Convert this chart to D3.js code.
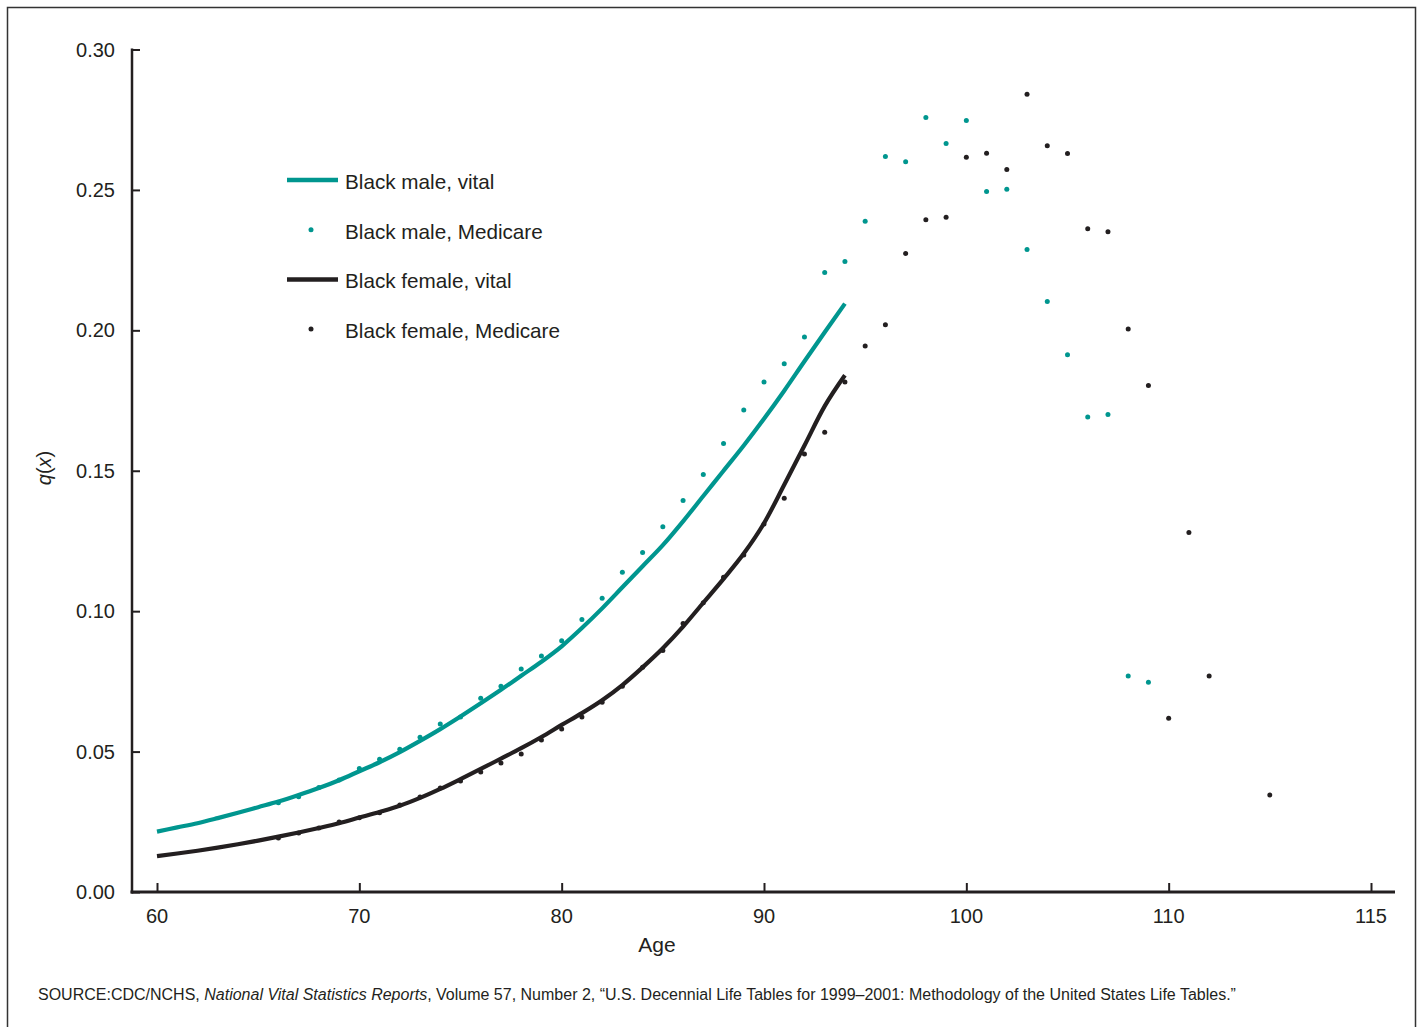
<!DOCTYPE html>
<html>
<head>
<meta charset="utf-8">
<script src="https://cdn.jsdelivr.net/npm/d3@7"></script>
<style>
  html, body { margin: 0; padding: 0; background: #fff; }
  svg { display: block; font-family: "Liberation Sans", Arial, Helvetica, sans-serif; }
</style>
</head>
<body>
<svg id="chart" width="1423" height="1027"></svg>
<script>
// ---- Data ----
const vitalAges = d3.range(60, 95);
const maleVital = [0.0215,0.0230,0.0245,0.0263,0.0282,0.0302,0.0322,0.0345,0.0370,0.0398,
  0.0430,0.0462,0.0498,0.0538,0.0580,0.0625,0.0672,0.0720,0.0770,0.0820,
  0.0875,0.0940,0.1010,0.1085,0.1160,0.1235,0.1320,0.1410,0.1500,0.1590,
  0.1685,0.1785,0.1890,0.1993,0.2095];
const femaleVital = [0.0128,0.0137,0.0147,0.0158,0.0170,0.0183,0.0197,0.0212,0.0228,0.0245,
  0.0265,0.0285,0.0307,0.0335,0.0367,0.0402,0.0438,0.0475,0.0512,0.0552,
  0.0595,0.0637,0.0683,0.0737,0.0800,0.0868,0.0945,0.1030,0.1115,0.1205,
  0.1313,0.1450,0.1590,0.1730,0.1840];

const maleMedicareAges = d3.range(66, 110);
const maleMedicare = [0.0318,0.0339,0.0372,0.0399,0.0440,0.0473,0.0508,0.0551,0.0598,0.0623,
  0.0690,0.0733,0.0794,0.0840,0.0895,0.0970,0.1046,0.1139,0.1209,0.1301,
  0.1394,0.1487,0.1597,0.1716,0.1816,0.1881,0.1976,0.2206,0.2245,0.2388,
  0.2619,0.2600,0.2758,0.2665,0.2747,0.2494,0.2502,0.2288,0.2103,0.1913,
  0.1691,0.1700,0.0769,0.0747];

const femaleMedicareAges = d3.range(66, 113).concat([115]);
const femaleMedicare = [0.0192,0.0210,0.0228,0.0249,0.0264,0.0282,0.0310,0.0338,0.0370,0.0395,
  0.0427,0.0459,0.0491,0.0541,0.0580,0.0623,0.0676,0.0733,0.0800,0.0860,
  0.0956,0.1030,0.1121,0.1200,0.1310,0.1402,0.1560,0.1637,0.1816,0.1944,
  0.2020,0.2274,0.2394,0.2403,0.2616,0.2631,0.2573,0.2841,0.2657,0.2630,
  0.2362,0.2351,0.2005,0.1804,0.0619,0.1280,0.0769,
  0.0345];

// Axis ticks (the last tick is labelled "115" in the source although it sits where 120 would be)
const xTickValues = [60, 70, 80, 90, 100, 110, 120];
const xTickLabels = ["60", "70", "80", "90", "100", "110", "115"];
const yTickValues = [0, 0.05, 0.10, 0.15, 0.20, 0.25, 0.30];

const legendItems = [
  { label: "Black male, vital", type: "line", color: "#00968f" },
  { label: "Black male, Medicare", type: "dot", color: "#00968f" },
  { label: "Black female, vital", type: "line", color: "#231f20" },
  { label: "Black female, Medicare", type: "dot", color: "#231f20" }
];

const TEAL = "#00968f", DARK = "#231f20";

// ---- Scales ----
const svg = d3.select("#chart");
const x = d3.scaleLinear().domain([60, 120]).range([157, 1371]);
const y = d3.scaleLinear().domain([0, 0.30]).range([892, 49.5]);

// frame
svg.append("path")
  .attr("d", "M7.5,1040 L7.5,7.5 L1415.5,7.5 L1415.5,1040")
  .attr("fill", "none").attr("stroke", "#333").attr("stroke-width", 1.5);

// ---- Axes ----
const axisColor = DARK;
const gx = svg.append("g").attr("transform", `translate(0,${y(0)})`)
  .call(d3.axisTop(x).tickValues(xTickValues).tickSize(9).tickFormat(""));
gx.select(".domain").remove();
gx.selectAll(".tick line").attr("stroke", axisColor).attr("stroke-width", 2);
svg.append("line").attr("x1", 130.5).attr("x2", 1395).attr("y1", y(0)).attr("y2", y(0))
  .attr("stroke", axisColor).attr("stroke-width", 3);

svg.append("g").selectAll("text").data(xTickValues).join("text")
  .attr("x", d => x(d)).attr("y", 923)
  .attr("text-anchor", "middle").attr("font-size", 20).attr("fill", DARK)
  .text((d, i) => xTickLabels[i]);

const gy = svg.append("g").attr("transform", `translate(132,0)`)
  .call(d3.axisRight(y).tickValues(yTickValues).tickSize(8).tickFormat(""));
gy.select(".domain").remove();
gy.selectAll(".tick line").attr("stroke", axisColor).attr("stroke-width", 2);
svg.append("line").attr("x1", 132).attr("x2", 132).attr("y1", y(0.30) - 1).attr("y2", y(0) + 1.5)
  .attr("stroke", axisColor).attr("stroke-width", 2.5);

svg.append("g").selectAll("text").data(yTickValues).join("text")
  .attr("x", 115).attr("y", d => y(d) + 7)
  .attr("text-anchor", "end").attr("font-size", 20).attr("fill", DARK)
  .text(d => d.toFixed(2));

// axis titles
svg.append("text").attr("x", 657).attr("y", 952).attr("text-anchor", "middle")
  .attr("font-size", 21).attr("fill", DARK).text("Age");

const yl = svg.append("text").attr("transform", "translate(51,468) rotate(-90)")
  .attr("text-anchor", "middle").attr("font-size", 20).attr("fill", DARK);
yl.append("tspan").attr("font-style", "italic").text("q");
yl.append("tspan").text("(");
yl.append("tspan").attr("font-style", "italic").text("x");
yl.append("tspan").text(")");

// ---- Lines ----
const line = d3.line().x(d => x(d[0])).y(d => y(d[1])).curve(d3.curveMonotoneX);
svg.append("path").datum(vitalAges.map((a, i) => [a, maleVital[i]]))
  .attr("d", line).attr("fill", "none").attr("stroke", TEAL).attr("stroke-width", 4.2);
svg.append("path").datum(vitalAges.map((a, i) => [a, femaleVital[i]]))
  .attr("d", line).attr("fill", "none").attr("stroke", DARK).attr("stroke-width", 4.2);

// ---- Dots ----
svg.append("g").selectAll("circle").data(maleMedicareAges).join("circle")
  .attr("cx", d => x(d)).attr("cy", (d, i) => y(maleMedicare[i])).attr("r", 2.5).attr("fill", TEAL);
svg.append("g").selectAll("circle").data(femaleMedicareAges).join("circle")
  .attr("cx", d => x(d)).attr("cy", (d, i) => y(femaleMedicare[i])).attr("r", 2.5).attr("fill", DARK);

// ---- Legend ----
const lg = svg.append("g");
legendItems.forEach((it, i) => {
  const cy = 180 + i * 49.7;
  if (it.type === "line") {
    lg.append("line").attr("x1", 287).attr("x2", 338).attr("y1", cy).attr("y2", cy)
      .attr("stroke", it.color).attr("stroke-width", 4.5);
  } else {
    lg.append("circle").attr("cx", 311).attr("cy", cy).attr("r", 2.5).attr("fill", it.color);
  }
  lg.append("text").attr("x", 345).attr("y", cy + 9).attr("font-size", 20.7).attr("fill", DARK).text(it.label);
});

// ---- Source ----
const src = svg.append("text").attr("x", 38).attr("y", 1000).attr("font-size", 16).attr("fill", DARK);
src.append("tspan").text("SOURCE:CDC/NCHS, ");
src.append("tspan").attr("font-style", "italic").text("National Vital Statistics Reports");
src.append("tspan").text(", Volume 57, Number 2, \u201CU.S. Decennial Life Tables for 1999\u20132001: Methodology of the United States Life Tables.\u201D");
</script>
</body>
</html>
